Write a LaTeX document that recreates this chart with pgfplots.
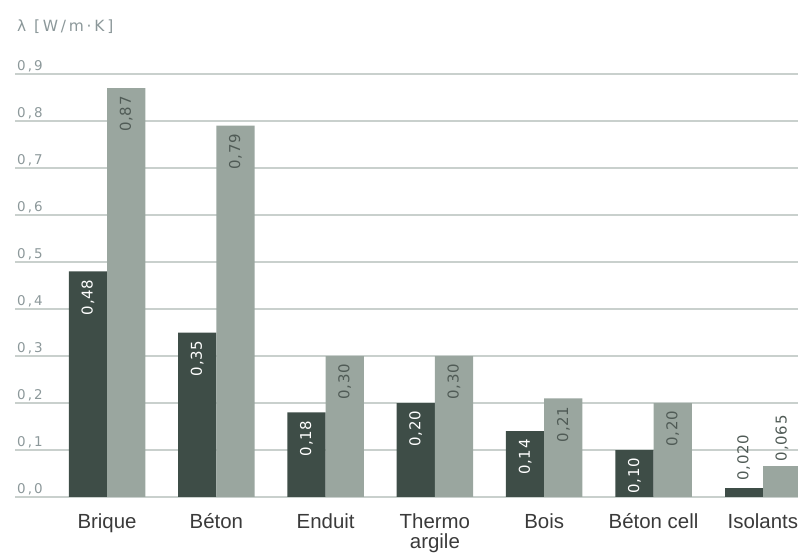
\documentclass[border=0pt]{standalone}
\usepackage{pgfplots}
\pgfplotsset{compat=1.18}
\usepackage{fontspec}
\setmainfont{Liberation Sans}
\newfontfamily\tickfont[LetterSpace=15]{DejaVu Sans}
\newfontfamily\titlefont[LetterSpace=18]{DejaVu Sans}
\newfontfamily\valfont[LetterSpace=5]{DejaVu Sans}
\definecolor{darkbar}{HTML}{3E4D47}
\definecolor{lightbar}{HTML}{9AA69F}
\definecolor{gridc}{HTML}{C9D0CD}
\definecolor{ticktxt}{HTML}{8C989A}
\definecolor{cattxt}{HTML}{3A3A3A}
\definecolor{lighttxt}{HTML}{505B56}

\begin{document}
\begin{tikzpicture}
\useasboundingbox (0,0) rectangle (798bp,553bp);
\begin{axis}[
  at={(15bp,56bp)}, anchor=south west,
  scale only axis, width=783bp, height=423bp,
  xmin=-0.842, xmax=6.322, ymin=0, ymax=0.9,
  axis line style={draw=none}, tick style={draw=none},
  ytick={0,0.1,0.2,0.3,0.4,0.5,0.6,0.7,0.8,0.9},
  ymajorgrids, grid style={gridc, line width=1.1bp},
  yticklabel style={anchor=base west, inner sep=0pt, xshift=2bp, yshift=3.5bp,
    font=\tickfont\fontsize{13.5}{13.5}\selectfont, text=ticktxt,
    /pgf/number format/use comma, /pgf/number format/fixed,
    /pgf/number format/fixed zerofill, /pgf/number format/precision=1,
    /pgf/number format/assume math mode=true},
  xtick={0,1,2,3,4,5,6},
  xticklabels={Brique, Béton, Enduit,
    {\begin{tabular}[t]{@{}c@{}}Thermo\\argile\end{tabular}},
    Bois, Béton cell, Isolants},
  xticklabel style={anchor=base, inner sep=0pt, yshift=-31.5bp,
    font=\fontsize{20.5}{17.5}\selectfont, text=cattxt},
  point meta=explicit symbolic,
  bar width=0.35, bar shift=0pt,
  every node near coord/.append style={rotate=90, inner ysep=0pt,
    font=\valfont\fontsize{15}{15}\selectfont},
]
% conductivity, lower value of each material
\addplot[ybar, fill=darkbar, draw=none, nodes near coords,
  nodes near coords style={anchor=east, inner xsep=8bp, text=white}]
  coordinates {(-0.175,0.48)[0,48] (0.825,0.35)[0,35] (1.825,0.18)[0,18]
               (2.825,0.20)[0,20] (3.825,0.14)[0,14] (4.825,0.10)[0,10]};
% conductivity, upper value of each material
\addplot[ybar, fill=lightbar, draw=none, nodes near coords,
  nodes near coords style={anchor=east, inner xsep=8bp, text=lighttxt}]
  coordinates {(0.175,0.87)[0,87] (1.175,0.79)[0,79] (2.175,0.30)[0,30]
               (3.175,0.30)[0,30] (4.175,0.21)[0,21] (5.175,0.20)[0,20]};
% insulants: bars too short, labels sit above them
\addplot[ybar, fill=darkbar, draw=none, nodes near coords,
  nodes near coords style={anchor=west, inner xsep=7bp, text=lighttxt}]
  coordinates {(5.825,0.020)[0,020]};
\addplot[ybar, fill=lightbar, draw=none, nodes near coords,
  nodes near coords style={anchor=west, inner xsep=5bp, text=lighttxt}]
  coordinates {(6.175,0.065)[0,065]};
\end{axis}
\node[anchor=base west, inner sep=0pt, text=ticktxt,
  font=\titlefont\fontsize{15.5}{15.5}\selectfont] at (17bp,521bp) {λ [W/m·K]};
\end{tikzpicture}
\end{document}
